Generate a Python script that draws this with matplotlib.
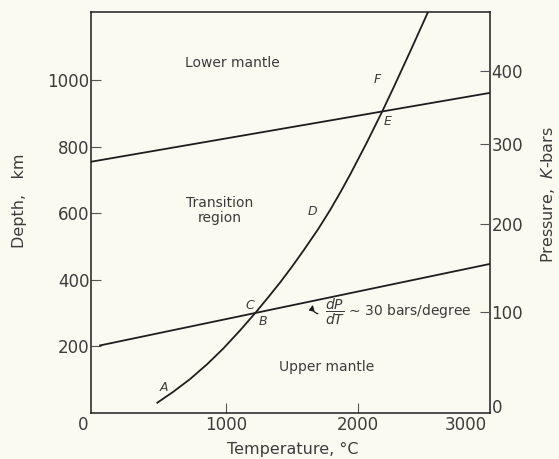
import matplotlib
matplotlib.use("Agg")
import matplotlib.pyplot as plt
import matplotlib.transforms as mtransforms

# melting / geotherm curve A-F (temperature C, depth km)
curve_T = [482, 600, 730, 860, 982, 1108, 1235, 1330, 1411, 1500, 1588,
           1700, 1790, 1870, 1942, 2068, 2189, 2270, 2400, 2532]
curve_D = [31, 63, 102, 147, 194, 248, 306, 352, 392, 439, 488,
           553, 610, 665, 717, 813, 910, 978, 1090, 1206]

# phase boundary lines (dP/dT ~ 30 bars/degree)
lower_T = [48, 3000]
lower_D = [203, 448]
upper_T = [-20, 3000]
upper_D = [755, 962]

# axis ticks
temp_ticks = [0, 1000, 2000, 3000]
depth_ticks = [200, 400, 600, 800, 1000]
pressure_ticks = [0, 100, 200, 300, 400]
pressure_depth = [0, 303, 567, 807, 1027]  # depth where each pressure sits

# point letters on the curve
letters = ["A", "B", "C", "D", "E", "F"]
letter_T = [533, 1283, 1184, 1654, 2222, 2144]
letter_D = [77, 276, 323, 606, 877, 1002]

bg = "#fafaf1"
ink = "#1e1e1e"
txt = "#3c3c3c"

fig = plt.figure(figsize=(5.59, 4.59), dpi=100, facecolor=bg)
ax = fig.add_axes([91/559, 1 - 413/459, 399/559, 401/459], facecolor=bg)

ax.plot(curve_T, curve_D, color=ink, lw=1.3)
ax.plot(lower_T, lower_D, color=ink, lw=1.3)
ax.plot(upper_T, upper_D, color=ink, lw=1.3)

ax.set_xlim(-20, 3000)
ax.set_ylim(0, 1205)

for s in ax.spines.values():
    s.set_color(ink)
    s.set_linewidth(1.1)

# x axis
ax.set_xticks(temp_ticks)
ax.set_xticklabels([str(t) for t in temp_ticks])
ax.tick_params(axis="x", direction="in", length=7, width=0.8, color="#555555",
               labelsize=12, labelcolor=txt, pad=2)
xt = ax.xaxis.get_major_ticks()
xt[0].tick1line.set_visible(False)
xt[-1].tick1line.set_visible(False)
xl = ax.get_xticklabels()
xl[0].set_transform(xl[0].get_transform() + mtransforms.ScaledTranslation(-0.11, 0, fig.dpi_scale_trans))
xl[-1].set_transform(xl[-1].get_transform() + mtransforms.ScaledTranslation(-0.24, 0, fig.dpi_scale_trans))

# left axis: depth
ax.set_yticks(depth_ticks)
ax.set_yticklabels([str(d) for d in depth_ticks])
ax.tick_params(axis="y", direction="in", length=7, width=0.8, color="#555555",
               labelsize=12, labelcolor=txt, pad=1)

# right axis: pressure
ax2 = ax.twinx()
ax2.set_ylim(ax.get_ylim())
ax2.set_yticks(pressure_depth)
ax2.set_yticklabels([str(p) for p in pressure_ticks])
ax2.tick_params(axis="y", direction="in", length=7, width=0.8, color="#555555",
                labelsize=12, labelcolor=txt, pad=1)
ax2.yaxis.get_major_ticks()[0].tick2line.set_visible(False)
yl = ax2.get_yticklabels()
yl[0].set_transform(yl[0].get_transform() + mtransforms.ScaledTranslation(0, 0.07, fig.dpi_scale_trans))
for s in ax2.spines.values():
    s.set_visible(False)

ax.set_xlabel("Temperature, °C", fontsize=11.5, color=txt)
ax.xaxis.set_label_coords(0.505, -0.072)
ax.set_ylabel("Depth,   km", fontsize=11.5, color=txt)
ax.yaxis.set_label_coords(-0.16, 0.53)
ax2.set_ylabel("Pressure,  $\\it{K}$-bars", fontsize=11.5, color=txt, rotation=90)
ax2.yaxis.set_label_coords(1.122, 0.544)

# region labels
ax.text(1047, 1052, "Lower mantle", fontsize=10, color=txt, ha="center", va="center")
ax.text(953, 608, "Transition\nregion", fontsize=10, color=txt, ha="center", va="center",
        linespacing=1.1)
ax.text(1767, 137, "Upper mantle", fontsize=10, color=txt, ha="center", va="center")

for name, t, d in zip(letters, letter_T, letter_D):
    ax.text(t, d, name, fontsize=9, style="italic", color=txt, ha="center", va="center")

# slope annotation
ax.annotate("", xy=(1665, 333), xytext=(1718, 296),
            arrowprops=dict(arrowstyle="-|>", color=ink, lw=0.9, mutation_scale=8,
                            connectionstyle="arc3,rad=-0.6"))
ax.text(1752, 303, r"$\dfrac{dP}{dT}$ ∼ 30 bars/degree", fontsize=10, color=txt,
        ha="left", va="center")

fig.savefig("out.png", dpi=100, facecolor=bg)
